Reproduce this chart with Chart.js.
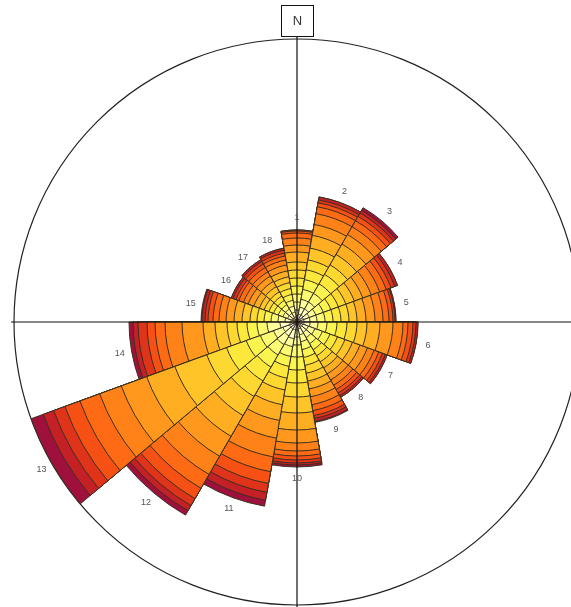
<!DOCTYPE html>
<html>
<head>
<meta charset="utf-8">
<script src="https://cdn.jsdelivr.net/npm/chart.js@4.4.1/dist/chart.umd.min.js"></script>
<style>
    html, body { margin: 0; padding: 0; background: #fff; overflow: hidden; }
    #wrap { position: absolute; left: 0; top: 0; width: 594px; height: 644px; }
</style>
</head>
<body>
<div id="wrap"><canvas id="rose"></canvas></div>
<script>
// sector numbers, clockwise from north, 20 degrees each
const sectorNames = ['1','2','3','4','5','6','7','8','9','10','11','12','13','14','15','16','17','18'];

// outer limit of each class ring in a sector (centre -> rim)
const sector1  = [6, 12, 20, 28, 36, 44, 52, 60, 70, 77, 84, 89, 91, 92, 92, 92];
const sector2  = [8, 15, 23, 33, 43, 53, 63, 75, 88, 99, 110, 117, 121, 124, 127, 127];
const sector3  = [8, 15, 23, 33, 44, 55, 66, 78, 90, 101, 110, 117, 122, 126, 129, 132];
const sector4  = [7, 13, 20, 28, 36, 44, 52, 61, 70, 79, 88, 95, 100, 104, 107, 107];
const sector5  = [7, 13, 20, 28, 36, 44, 52, 60, 69, 78, 86, 92, 96, 98, 99, 99];
const sector6  = [7, 13, 21, 30, 40, 50, 60, 70, 83, 96, 106, 111, 116, 119, 121, 121];
const sector7  = [6, 12, 19, 27, 35, 43, 51, 59, 67, 75, 82, 87, 91, 94, 96, 96];
const sector8  = [6, 12, 18, 25, 32, 39, 46, 53, 60, 67, 73, 78, 82, 85, 87, 87];
const sector9  = [7, 13, 20, 28, 36, 44, 52, 60, 68, 76, 84, 90, 95, 98, 101, 102];
const sector10 = [8, 15, 23, 35, 48, 61, 75, 91, 108, 121, 129, 134, 138, 141, 143, 145];
const sector11 = [8, 17, 25, 35, 45, 57, 69, 84, 100, 118, 137, 152, 164, 173, 181, 187];
const sector12 = [8, 16, 26, 38, 52, 68, 86, 108, 132, 155, 176, 192, 204, 212, 218, 223];
const sector13 = [8, 15, 25, 39, 54, 75, 96, 130, 160, 187, 210, 231, 247, 259, 270, 283];
const sector14 = [7, 17, 30, 40, 50, 60, 70, 82, 94, 115, 132, 142, 150, 159, 164, 168];
const sector15 = [6, 12, 19, 26, 33, 40, 47, 55, 63, 71, 78, 84, 89, 92, 95, 96];
const sector16 = [5, 10, 15, 20, 25, 30, 35, 40, 46, 52, 57, 62, 65, 68, 70, 70];
const sector17 = [5, 10, 15, 20, 25, 30, 35, 41, 47, 53, 58, 63, 67, 70, 72, 72];
const sector18 = [5, 10, 16, 22, 28, 34, 40, 46, 52, 58, 63, 67, 70, 73, 75, 75];

// class colours, inner (pale yellow) -> outer (purple)
const ringColors = ['#fffff0', '#ffffc4', '#ffff9c', '#fcfb72', '#f9f44e', '#fbe83a', '#fdd830', '#ffc428',
                    '#ffae22', '#ff981c', '#ff8218', '#ff6a14', '#f65014', '#e0341a', '#c42026', '#a0103c'];

const scaleMax = 283;

const sectors = [sector1, sector2, sector3, sector4, sector5, sector6, sector7, sector8, sector9,
                 sector10, sector11, sector12, sector13, sector14, sector15, sector16, sector17, sector18];

window.onload = function () {
    drawRose();
}

// lines, N box and sector numbers on top of the wedges
const roseOverlay = {
    id: 'roseOverlay',
    afterDatasetsDraw(chart) {
        const ctx = chart.ctx;
        const r = chart.scales.r;
        const R = r.drawingArea;
        ctx.save();
        ctx.strokeStyle = '#111';
        ctx.lineWidth = 1.2;
        ctx.beginPath();
        ctx.moveTo(r.xCenter - R - 3, r.yCenter);
        ctx.lineTo(chart.width, r.yCenter);
        ctx.moveTo(r.xCenter, r.yCenter - R - 3);
        ctx.lineTo(r.xCenter, chart.height);
        ctx.stroke();

        // N box
        const boxW = 32, boxH = 31;
        const boxBottom = r.yCenter - R - 3;
        ctx.lineWidth = 1;
        ctx.fillStyle = '#fff';
        ctx.fillRect(r.xCenter - boxW / 2, boxBottom - boxH, boxW, boxH);
        ctx.strokeRect(r.xCenter - boxW / 2 + 0.5, boxBottom - boxH + 0.5, boxW, boxH);
        ctx.fillStyle = '#333';
        ctx.font = '13px "Liberation Sans", Arial, sans-serif';
        ctx.textAlign = 'center';
        ctx.textBaseline = 'middle';
        ctx.fillText('N', r.xCenter + 0.5, boxBottom - boxH / 2 + 1);

        // sector numbers, just past the rim of each sector
        ctx.fillStyle = '#555';
        ctx.font = '9px "Liberation Sans", Arial, sans-serif';
        const half = Math.PI / sectorNames.length;
        sectors.forEach((s, i) => {
            const dist = r.getDistanceFromCenterForValue(s[s.length - 1] + 12);
            const angle = r.getIndexAngle(i) + half - Math.PI / 2;
            const x = r.xCenter + Math.cos(angle) * dist;
            const y = r.yCenter + Math.sin(angle) * dist;
            ctx.fillText(sectorNames[i], x, y);
        });
        ctx.restore();
    }
};

function drawRose() {
    const ctx = document.getElementById('rose').getContext('2d');
    const datasets = ringColors.map((color, k) => ({
        label: 'class ' + (k + 1),
        data: sectors.map(s => s[k]),
        backgroundColor: color,
        borderColor: '#3a3020',
        borderWidth: 1
    }));
    new Chart(ctx, {
        type: 'polarArea',
        data: { labels: sectorNames, datasets: datasets },
        options: {
            responsive: true,
            maintainAspectRatio: false,
            animation: false,
            layout: { padding: 14 },
            plugins: { legend: { display: false }, tooltip: { enabled: false } },
            scales: {
                r: {
                    min: 0,
                    max: scaleMax,
                    startAngle: -10,
                    ticks: { display: false, stepSize: scaleMax },
                    grid: { display: true, circular: true, color: '#222', lineWidth: 1.2 },
                    angleLines: { display: false },
                    pointLabels: { display: false }
                }
            }
        },
        plugins: [roseOverlay]
    });
}
</script>
</body>
</html>
